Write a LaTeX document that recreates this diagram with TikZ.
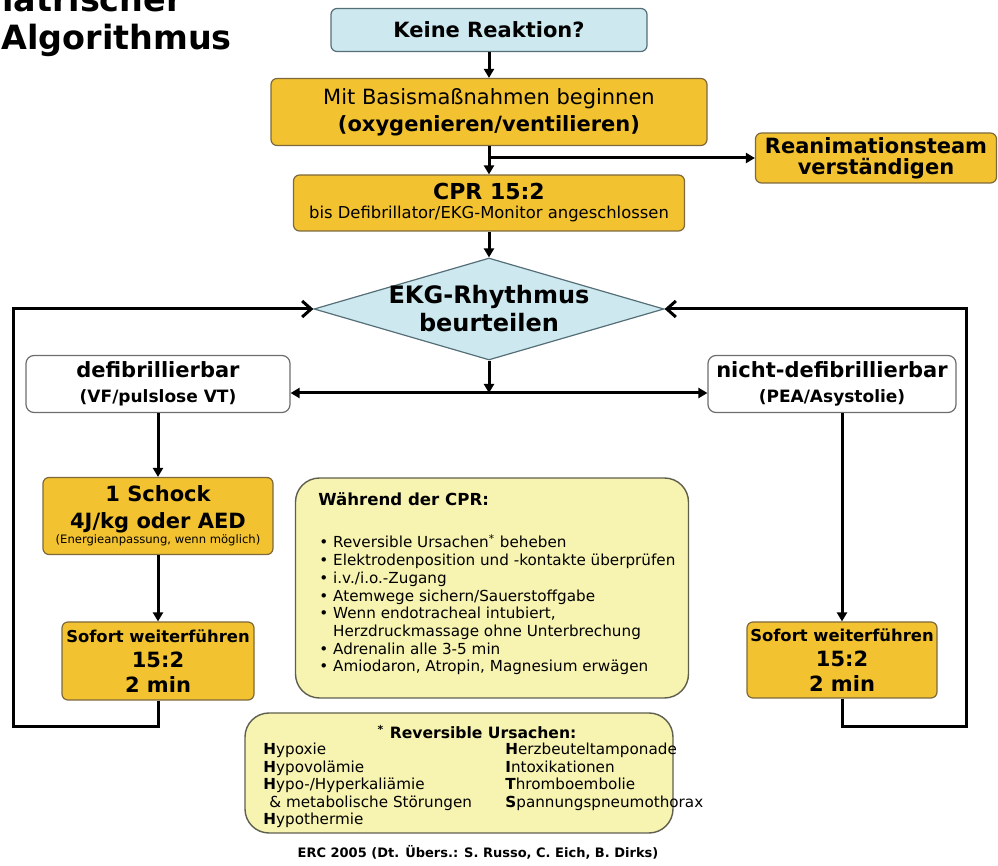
\documentclass[tikz,border=0pt]{standalone}
\usepackage{fontspec}
\setmainfont{DejaVu Sans}
\usepackage{tikz}
\usetikzlibrary{shapes,arrows.meta}
\definecolor{gold}{RGB}{242,194,48}
\definecolor{goldline}{RGB}{125,105,60}
\definecolor{sky}{RGB}{205,233,239}
\definecolor{skyline}{RGB}{85,110,120}
\definecolor{pale}{RGB}{247,243,176}
\definecolor{paleline}{RGB}{95,95,80}
\definecolor{greyline}{RGB}{110,110,110}

\begin{document}
\begin{tikzpicture}[x=0.5pt,y=-0.5pt,
  goldbox/.style={draw=goldline,fill=gold,rounded corners=3pt,line width=0.6pt,align=center,inner sep=0pt},
  skybox/.style={draw=skyline,fill=sky,rounded corners=3pt,line width=0.6pt,align=center,inner sep=0pt},
  whitebox/.style={draw=greyline,fill=white,rounded corners=4pt,line width=0.6pt,align=center,inner sep=0pt},
  notebox/.style={draw=paleline,fill=pale,rounded corners=12pt,line width=0.7pt},
  arr/.style={line width=1.5pt,-{Triangle[length=4.5pt,width=5pt]}},
  back/.style={line width=1.5pt,-{Straight Barb[length=4.5pt,width=8pt]}}]
\useasboundingbox (0,0) rectangle (998,866);

\node[anchor=base east,inner sep=0pt,font=\fontsize{16.7}{20}\selectfont\bfseries] (paed) at (183,12) {Pädiatrischer};
\node[anchor=base west,inner sep=0pt,font=\fontsize{16.7}{20}\selectfont\bfseries] (algo) at (1,50) {Algorithmus};

\node[skybox,minimum width=158pt,minimum height=21.5pt,font=\fontsize{10.5}{12}\selectfont\bfseries] (keine) at (489,30) {Keine Reaktion?};
\node[goldbox,minimum width=218pt,minimum height=33.5pt,font=\fontsize{10.5}{13.5}\selectfont] (basis) at (489,112) {Mit Basismaßnahmen beginnen\\\textbf{(oxygenieren/ventilieren)}};
\node[goldbox,minimum width=195.5pt,minimum height=28pt,font=\fontsize{8.2}{9.5}\selectfont] (cpr) at (489,203) {{\fontsize{11}{12}\selectfont\bfseries CPR 15:2}\\bis Defibrillator/EKG-Monitor angeschlossen};
\node[goldbox,minimum width=120.5pt,minimum height=25pt,font=\fontsize{10.5}{10.5}\selectfont\bfseries] (team) at (876,158) {Reanimationsteam\\verständigen};

\node[diamond,draw=skyline,fill=sky,line width=0.6pt,minimum width=175pt,minimum height=51pt,inner sep=0pt] (ekg) at (489,309) {};
\node[align=center,inner sep=0pt,font=\fontsize{12}{14}\selectfont\bfseries] (ekgtext) at (ekg) {EKG-Rhythmus\\beurteilen};

\node[whitebox,minimum width=132pt,minimum height=28.5pt,font=\fontsize{8.5}{12.5}\selectfont\bfseries] (defib) at (158,384) {{\fontsize{10.5}{12}\selectfont defibrillierbar}\\(VF/pulslose VT)};
\node[whitebox,minimum width=124pt,minimum height=28.5pt,font=\fontsize{8.5}{12.5}\selectfont\bfseries] (nicht) at (832,384) {{\fontsize{10.5}{12}\selectfont nicht-defibrillierbar}\\(PEA/Asystolie)};

\node[goldbox,minimum width=115pt,minimum height=38.5pt,font=\fontsize{10.5}{13.5}\selectfont\bfseries] (schock) at (158,516) {1 Schock\\4J/kg oder AED\\[-5.8pt]{\fontsize{5.8}{7}\selectfont\mdseries (Energieanpassung, wenn möglich)}};
\node[goldbox,minimum width=96pt,minimum height=39pt,font=\fontsize{10.5}{12.5}\selectfont\bfseries] (sofortL) at (158,661) {{\fontsize{8.2}{9}\selectfont Sofort weiterführen}\\15:2\\2 min};
\node[goldbox,minimum width=95pt,minimum height=38pt,font=\fontsize{10.5}{12.5}\selectfont\bfseries] (sofortR) at (842,660) {{\fontsize{8.2}{9}\selectfont Sofort weiterführen}\\15:2\\2 min};

\node[notebox,minimum width=196.5pt,minimum height=110pt] (cprnote) at (492,588) {};
\node[anchor=base west,inner sep=0pt,font=\fontsize{8.3}{10}\selectfont\bfseries] (cprhead) at (318,506) {Während der CPR:};
\node[anchor=north west,inner sep=0pt,align=left,font=\fontsize{7.6}{8.85}\selectfont] (cprlist) at (319,534) {\textbullet~Reversible Ursachen\textsuperscript{*} beheben\\
\textbullet~Elektrodenposition und -kontakte überprüfen\\
\textbullet~i.v./i.o.-Zugang\\
\textbullet~Atemwege sichern/Sauerstoffgabe\\
\textbullet~Wenn endotracheal intubiert,\\
\phantom{\textbullet~}Herzdruckmassage ohne Unterbrechung\\
\textbullet~Adrenalin alle 3-5 min\\
\textbullet~Amiodaron, Atropin, Magnesium erwägen};

\node[notebox,minimum width=214pt,minimum height=60pt] (causes) at (459,773) {};
\node[inner sep=0pt,font=\fontsize{7.8}{9}\selectfont\bfseries] (causeshead) at (477,732) {\textsuperscript{*} Reversible Ursachen:};
\node[anchor=north west,inner sep=0pt,align=left,font=\fontsize{7.6}{8.7}\selectfont] (causesL) at (263,743) {\textbf{H}ypoxie\\\textbf{H}ypovolämie\\\textbf{H}ypo-/Hyperkaliämie\\\hspace*{3pt}\& metabolische Störungen\\\textbf{H}ypothermie};
\node[anchor=north west,inner sep=0pt,align=left,font=\fontsize{7.6}{8.7}\selectfont] (causesR) at (505,743) {\textbf{H}erzbeuteltamponade\\\textbf{I}ntoxikationen\\\textbf{T}hromboembolie\\\textbf{S}pannungspneumothorax};

\node[inner sep=0pt,font=\fontsize{6.5}{8}\selectfont\bfseries] (erc) at (478,852) {ERC 2005 (Dt. Übers.: S. Russo, C. Eich, B. Dirks)};

\draw[arr] (keine) -- (basis);
\draw[arr] (basis) -- (cpr);
\coordinate (split) at (basis.south |- team.west);
\draw[arr] (split) -- (team.west);
\draw[arr] (cpr) -- (ekg);
\coordinate (hub) at (489,393);
\draw[arr] (ekg.south) -- (hub);
\draw[arr] (hub) -- (defib.east |- hub);
\draw[arr] (hub) -- (nicht.west |- hub);
\draw[arr] (defib) -- (schock);
\draw[arr] (schock) -- (sofortL);
\draw[arr] (sofortR.north |- nicht.south) -- (sofortR.north);
\coordinate (loopL) at (13,727);
\coordinate (loopR) at (966,727);
\draw[back] (sofortL.south) |- (loopL) |- (ekg.west);
\draw[back] (sofortR.south) |- (loopR) |- (ekg.east);
\end{tikzpicture}
\end{document}
